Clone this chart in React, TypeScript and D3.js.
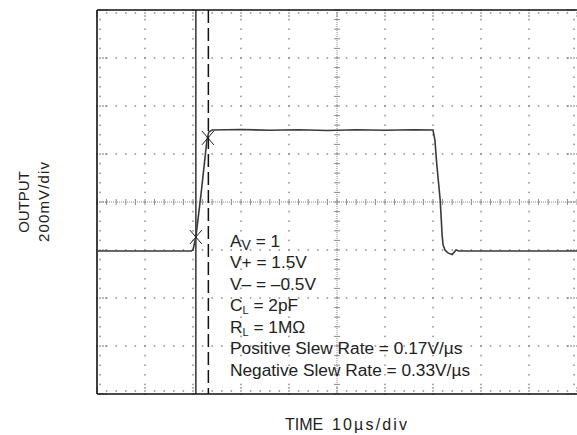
import React from "react";
import * as d3 from "d3";

// Waveform: time (µs from left edge) and output (mV relative to centre line)
const timeUs = [0, 19.6, 20.0, 20.6, 21.7, 22.9, 23.3, 24.0, 30, 36, 42, 48, 54, 60, 66, 70.0, 70.4, 70.8, 71.5, 71.9, 72.1, 72.5, 73.1, 74.0, 74.8, 75.4, 100];
const outputMv = [-204, -204, -200, -146, 38, 258, 292, 300, 302, 299, 301, 298, 301, 299, 301, 300, 258, 154, 8, -138, -179, -200, -212, -219, -200, -204, -204];

// Cursors and markers
const cursorSolidUs = 20.6;
const cursorDashedUs = 23.2;
const markerTimes = [20.6, 23.1];
const markerValues = [-146, 267];

// Annotation lines
const annotations = [
  { main: "A", sub: "V", rest: " = 1" },
  { main: "V+ = 1.5V", sub: "", rest: "" },
  { main: "V\u2013 = \u20130.5V", sub: "", rest: "" },
  { main: "C", sub: "L", rest: " = 2pF" },
  { main: "R", sub: "L", rest: " = 1M\u03A9" },
  { main: "Positive Slew Rate = 0.17V/\u00B5s", sub: "", rest: "" },
  { main: "Negative Slew Rate = 0.33V/\u00B5s", sub: "", rest: "" },
];

const xLabelA = "TIME";
const xLabelB = "10\u00B5s/div";
const yLabel1 = "OUTPUT";
const yLabel2 = "200mV/div";

export default function App() {
  const x = d3.scaleLinear().domain([0, 100]).range([97, 577]);
  const y = d3.scaleLinear().domain([-800, 800]).range([394, 10]);
  const font = "'Liberation Sans', Arial, Helvetica, sans-serif";
  const dotColor = "#8a8a8a";

  const majorT = d3.range(0, 101, 10);
  const minorT = d3.range(0, 100.001, 2);
  const majorV = d3.range(-800, 801, 200);
  const minorV = d3.range(-800, 800.001, 40);

  const dots: JSX.Element[] = [];
  let k = 0;
  const dot = (cx: number, cy: number) => {
    dots.push(<rect key={k++} x={cx - 0.75} y={cy - 0.75} width={1.5} height={1.5} fill={dotColor} />);
  };
  majorT.forEach((t) => {
    if (t === 0 || t === 100 || t === 50) return;
    minorV.forEach((v) => dot(x(t), y(v)));
  });
  majorV.forEach((v) => {
    if (v === -800 || v === 800 || v === 0) return;
    minorT.forEach((t) => dot(x(t), y(v)));
  });
  minorT.forEach((t) => {
    dot(x(t), y(800) + 3);
    dot(x(t), y(-800) - 3);
  });
  majorT.forEach((t) => {
    dot(x(t), y(800) + 6);
    dot(x(t), y(-800) - 6);
  });
  minorV.forEach((v) => {
    dot(x(0) + 3, y(v));
    dot(x(100) - 3, y(v));
  });
  majorV.forEach((v) => {
    dot(x(0) + 6, y(v));
    dot(x(0) + 9, y(v));
    dot(x(100) - 6, y(v));
    dot(x(100) - 9, y(v));
  });

  const centre: JSX.Element[] = [];
  centre.push(
    <line key="ch" x1={x(0)} x2={x(100)} y1={y(0)} y2={y(0)} stroke={dotColor} strokeWidth={1} strokeDasharray="1,1" />,
    <line key="cv" x1={x(50)} x2={x(50)} y1={y(800)} y2={y(-800)} stroke={dotColor} strokeWidth={1} strokeDasharray="1,1" />
  );
  minorT.forEach((t, i) =>
    centre.push(<line key={"th" + i} x1={x(t)} x2={x(t)} y1={y(0) - 3} y2={y(0) + 3} stroke={dotColor} strokeWidth={1} />)
  );
  minorV.forEach((v, i) =>
    centre.push(<line key={"tv" + i} x1={x(50) - 3} x2={x(50) + 3} y1={y(v)} y2={y(v)} stroke={dotColor} strokeWidth={1} />)
  );

  const line = d3
    .line<number>()
    .x((_, i) => x(timeUs[i]))
    .y((v) => y(v))
    .curve(d3.curveLinear);

  const tx = 230;
  const baselines = [247, 268, 290, 311, 333, 354, 376];

  return (
    <svg width={577} height={435} style={{ position: "absolute", left: 0, top: 0, background: "#fff" }}>
      <rect width={577} height={435} fill="#fff" />
      {dots}
      {centre}
      {/* frame */}
      <line x1={x(0)} x2={x(100)} y1={y(800)} y2={y(800)} stroke="#111" strokeWidth={1.6} />
      <line x1={x(0)} x2={x(100)} y1={y(-800)} y2={y(-800)} stroke="#111" strokeWidth={1.6} />
      <line x1={x(0)} x2={x(0)} y1={y(800)} y2={y(-800)} stroke="#111" strokeWidth={1.6} />
      {/* cursors */}
      <line x1={x(cursorSolidUs)} x2={x(cursorSolidUs)} y1={y(800)} y2={y(-800)} stroke="#111" strokeWidth={1.3} />
      <line x1={x(cursorDashedUs)} x2={x(cursorDashedUs)} y1={y(800)} y2={y(-800)} stroke="#111" strokeWidth={1.5} strokeDasharray="13,5" />
      {/* waveform */}
      <path d={line(outputMv) || ""} fill="none" stroke="#3a3a3a" strokeWidth={1.6} />
      {/* markers */}
      {markerTimes.map((t, i) => (
        <g key={"m" + i} stroke="#222" strokeWidth={1}>
          <line x1={x(t) - 6} x2={x(t) + 6} y1={y(markerValues[i]) - 7} y2={y(markerValues[i]) + 7} />
          <line x1={x(t) - 6} x2={x(t) + 6} y1={y(markerValues[i]) + 7} y2={y(markerValues[i]) - 7} />
        </g>
      ))}
      {/* annotations */}
      {annotations.map((a, i) => (
        <text key={"a" + i} x={tx} y={baselines[i]} fontFamily={font} fontSize={17.3} fill="#222">
          <tspan>{a.main}</tspan>
          {a.sub && (
            <tspan dy={3} fontSize={a.sub === "V" ? 14 : 11}>
              {a.sub}
            </tspan>
          )}
          {a.rest && <tspan dy={a.sub ? -3 : 0}>{a.rest}</tspan>}
        </text>
      ))}
      {/* axis labels */}
      <text x={285} y={430} fontFamily={font} fontSize={16} fill="#222">
        {xLabelA}
      </text>
      <text x={332} y={430} fontFamily={font} fontSize={16} fill="#222" textLength={75} lengthAdjust="spacing">
        {xLabelB}
      </text>
      <text transform={`translate(29,202) rotate(-90)`} textAnchor="middle" fontFamily={font} fontSize={15} fill="#222">
        {yLabel1}
      </text>
      <text transform={`translate(49,202) rotate(-90)`} textAnchor="middle" fontFamily={font} fontSize={15} fill="#222" textLength={80} lengthAdjust="spacing">
        {yLabel2}
      </text>
    </svg>
  );
}
